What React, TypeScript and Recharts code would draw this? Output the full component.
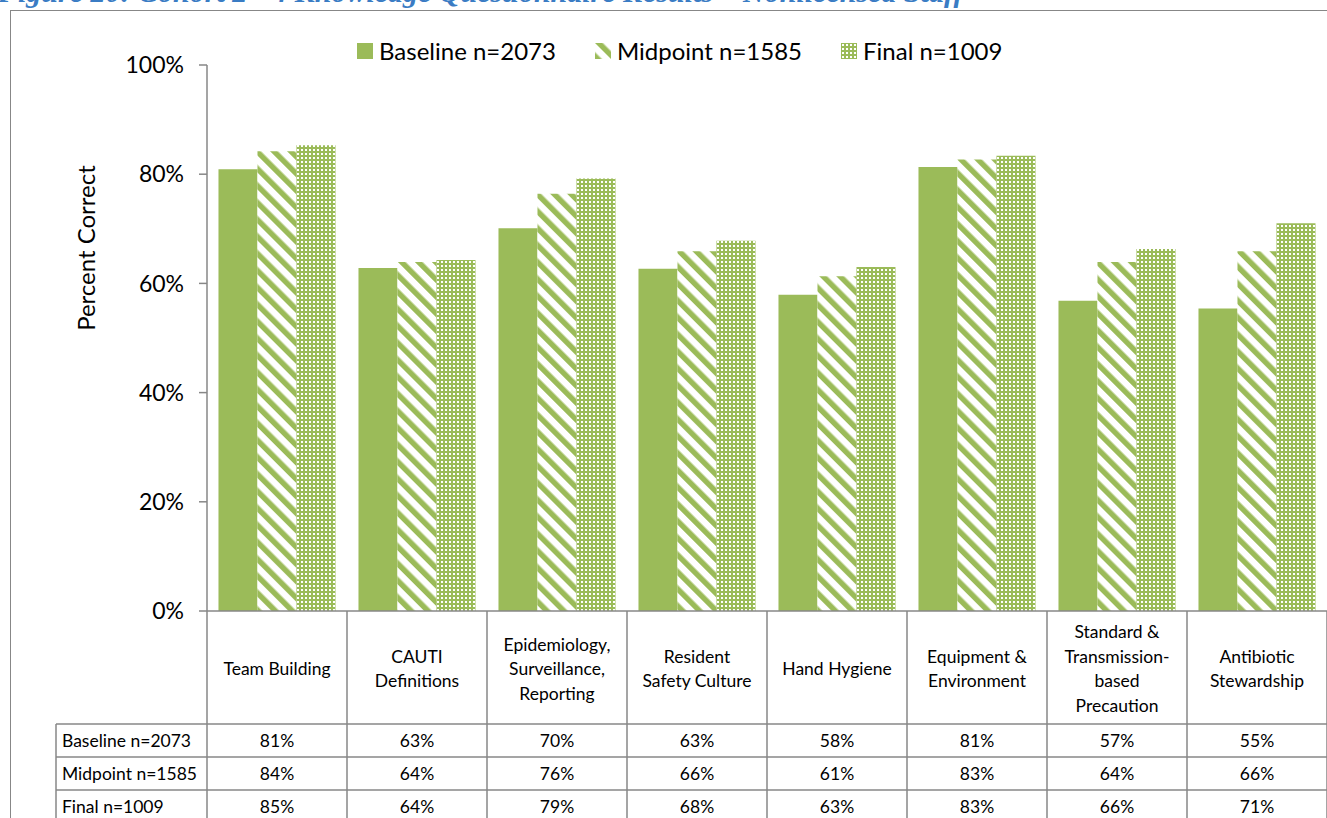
import React from 'react';
import { BarChart, Bar, XAxis, YAxis, Legend } from 'recharts';

const categories = [
  'Team Building',
  'CAUTI Definitions',
  'Epidemiology, Surveillance, Reporting',
  'Resident Safety Culture',
  'Hand Hygiene',
  'Equipment & Environment',
  'Standard & Transmission-based Precaution',
  'Antibiotic Stewardship',
];
const categoryLines = [
  ['Team Building'],
  ['CAUTI', 'Definitions'],
  ['Epidemiology,', 'Surveillance,', 'Reporting'],
  ['Resident', 'Safety Culture'],
  ['Hand Hygiene'],
  ['Equipment &', 'Environment'],
  ['Standard &', 'Transmission-', 'based', 'Precaution'],
  ['Antibiotic', 'Stewardship'],
];
const baseline = [80.9, 62.8, 70.1, 62.7, 57.9, 81.3, 56.8, 55.4];
const midpoint = [84.2, 63.9, 76.4, 65.9, 61.3, 82.7, 63.9, 65.9];
const finalVals = [85.3, 64.3, 79.2, 67.8, 63.0, 83.4, 66.3, 71.0];
const seriesNames = ['Baseline n=2073', 'Midpoint n=1585', 'Final n=1009'];
const seriesKeys = ['baseline', 'midpoint', 'final'];
const yTicks = [0, 20, 40, 60, 80, 100];
const title = 'Figure 20: Cohort 2 - 4 Knowledge Questionnaire Results \u2013 Nonlicensed Staff';

const data = categories.map((c, i) => ({
  name: c,
  baseline: baseline[i],
  midpoint: midpoint[i],
  final: finalVals[i],
}));
const seriesValues = [baseline, midpoint, finalVals];

const GREEN = '#9BBB59';
const GRAY = '#878787';
const FONT = 'Lato, "Open Sans", sans-serif';
const fills = [GREEN, 'url(#stripes)', 'url(#dots)'];

const PLOT_W = 1120;
const HALF = PLOT_W / categories.length / 2;
const ROW_H = 33;
const HEADER_H = 113;
const LABEL_COL_W = 151;
const TFS = 17.5;

const renderTick = (props: any) => {
  const { x, y, payload } = props;
  const i = payload.index;
  const lines = categoryLines[i];
  const lh = 24.5;
  const cy = y + HEADER_H / 2 + 1;
  const startY = cy - ((lines.length - 1) * lh) / 2;
  const tableTop = y + HEADER_H;
  const els: any[] = [];
  if (i === 0) {
    const left = x - HALF - LABEL_COL_W;
    const right = x - HALF + PLOT_W;
    for (let r = 0; r < 4; r++) {
      els.push(
        <line key={'h' + r} x1={left} x2={right} y1={tableTop + r * ROW_H} y2={tableTop + r * ROW_H} stroke={GRAY} strokeWidth={1.5} />
      );
    }
    els.push(<line key="lb" x1={left} x2={left} y1={tableTop} y2={tableTop + 3 * ROW_H + 20} stroke={GRAY} strokeWidth={1.5} />);
    els.push(<line key="l0" x1={x - HALF} x2={x - HALF} y1={y} y2={tableTop + 3 * ROW_H + 20} stroke={GRAY} strokeWidth={1.5} />);
    seriesNames.forEach((s, r) => {
      els.push(
        <text key={'rl' + r} x={left + 6} y={tableTop + r * ROW_H + ROW_H / 2} dominantBaseline="central" fontSize={TFS} fill="#000" fontFamily={FONT}>
          {s}
        </text>
      );
    });
  }
  els.push(<line key="rb" x1={x + HALF} x2={x + HALF} y1={y} y2={tableTop + 3 * ROW_H + 20} stroke={GRAY} strokeWidth={1.5} />);
  lines.forEach((l, k) => {
    els.push(
      <text key={'c' + k} x={x} y={startY + k * lh} textAnchor="middle" dominantBaseline="central" fontSize={TFS} fill="#000" fontFamily={FONT}>
        {l}
      </text>
    );
  });
  seriesValues.forEach((arr, r) => {
    els.push(
      <text key={'v' + r} x={x} y={tableTop + r * ROW_H + ROW_H / 2} textAnchor="middle" dominantBaseline="central" fontSize={TFS} fill="#000" fontFamily={FONT}>
        {Math.round(arr[i]) + '%'}
      </text>
    );
  });
  return <g>{els}</g>;
};

const renderLegend = () => (
  <div style={{ display: 'flex', alignItems: 'center', fontFamily: FONT, fontSize: 24, color: '#000', whiteSpace: 'nowrap' }}>
    {seriesNames.map((s, i) => (
      <div key={s} style={{ display: 'flex', alignItems: 'center', marginRight: 39 }}>
        <svg width={16} height={16} style={{ marginRight: 6 }}>
          <rect x={0} y={0} width={16} height={16} fill={fills[i]} />
        </svg>
        <span>{s}</span>
      </div>
    ))}
  </div>
);

export default function App() {
  return (
    <div style={{ position: 'absolute', left: 0, top: 0, width: 1327, height: 818, overflow: 'hidden', background: '#fff' }}>
      <svg width={0} height={0} style={{ position: 'absolute' }}>
        <defs>
          <pattern id="stripes" patternUnits="userSpaceOnUse" width={12} height={12} patternTransform="rotate(-45)">
            <rect x={0} y={0} width={12} height={12} fill="#fff" />
            <rect x={0} y={0} width={5.5} height={12} fill={GREEN} />
          </pattern>
          <pattern id="dots" patternUnits="userSpaceOnUse" width={4} height={4}>
            <rect x={0} y={0} width={4} height={4} fill={GREEN} />
            <rect x={1} y={1} width={2} height={2} fill="#fff" />
          </pattern>
        </defs>
      </svg>
      <div style={{ position: 'absolute', left: -2, top: -23, fontFamily: '"Liberation Serif", serif', fontStyle: 'italic', fontWeight: 'bold', fontSize: 30, lineHeight: '30px', color: '#3A7CC4', whiteSpace: 'nowrap' }}>
        {title}
      </div>
      <div style={{ position: 'absolute', left: 10, top: 10, width: 1340, height: 830, border: `1px solid ${GRAY}` }} />
      <div style={{ position: 'absolute', left: 0, top: 0 }}>
        <BarChart
          width={1340}
          height={830}
          data={data}
          margin={{ top: 65, right: 13, bottom: 0, left: 107 }}
          barCategoryGap="8.2%"
          barGap={0}
        >
          <XAxis
            dataKey="name"
            interval={0}
            height={219}
            tickLine={false}
            tickSize={0}
            tickMargin={0}
            axisLine={{ stroke: GRAY, strokeWidth: 1.5 }}
            tick={renderTick}
          />
          <YAxis
            width={100}
            domain={[0, 100]}
            ticks={yTicks}
            tickFormatter={(v: number) => `${v}%`}
            tickSize={8}
            tickMargin={15}
            axisLine={{ stroke: GRAY, strokeWidth: 1.5 }}
            tickLine={{ stroke: GRAY, strokeWidth: 1.5 }}
            tick={{ fontSize: 23, fill: '#000', fontFamily: FONT }}
            label={(p: any) => (
              <text x={85} y={248} transform="rotate(-90, 85, 248)" textAnchor="middle" dominantBaseline="central" fontSize={24} fill="#000" fontFamily={FONT}>
                Percent Correct
              </text>
            )}
          />
          <Legend
            verticalAlign="middle"
            align="center"
            layout="horizontal"
            content={renderLegend}
            wrapperStyle={{ top: 36, left: 357, width: 800, height: 28 }}
          />
          {seriesKeys.map((k, i) => (
            <Bar key={k} dataKey={k} name={seriesNames[i]} fill={fills[i]} isAnimationActive={false} />
          ))}
        </BarChart>
      </div>
    </div>
  );
}
